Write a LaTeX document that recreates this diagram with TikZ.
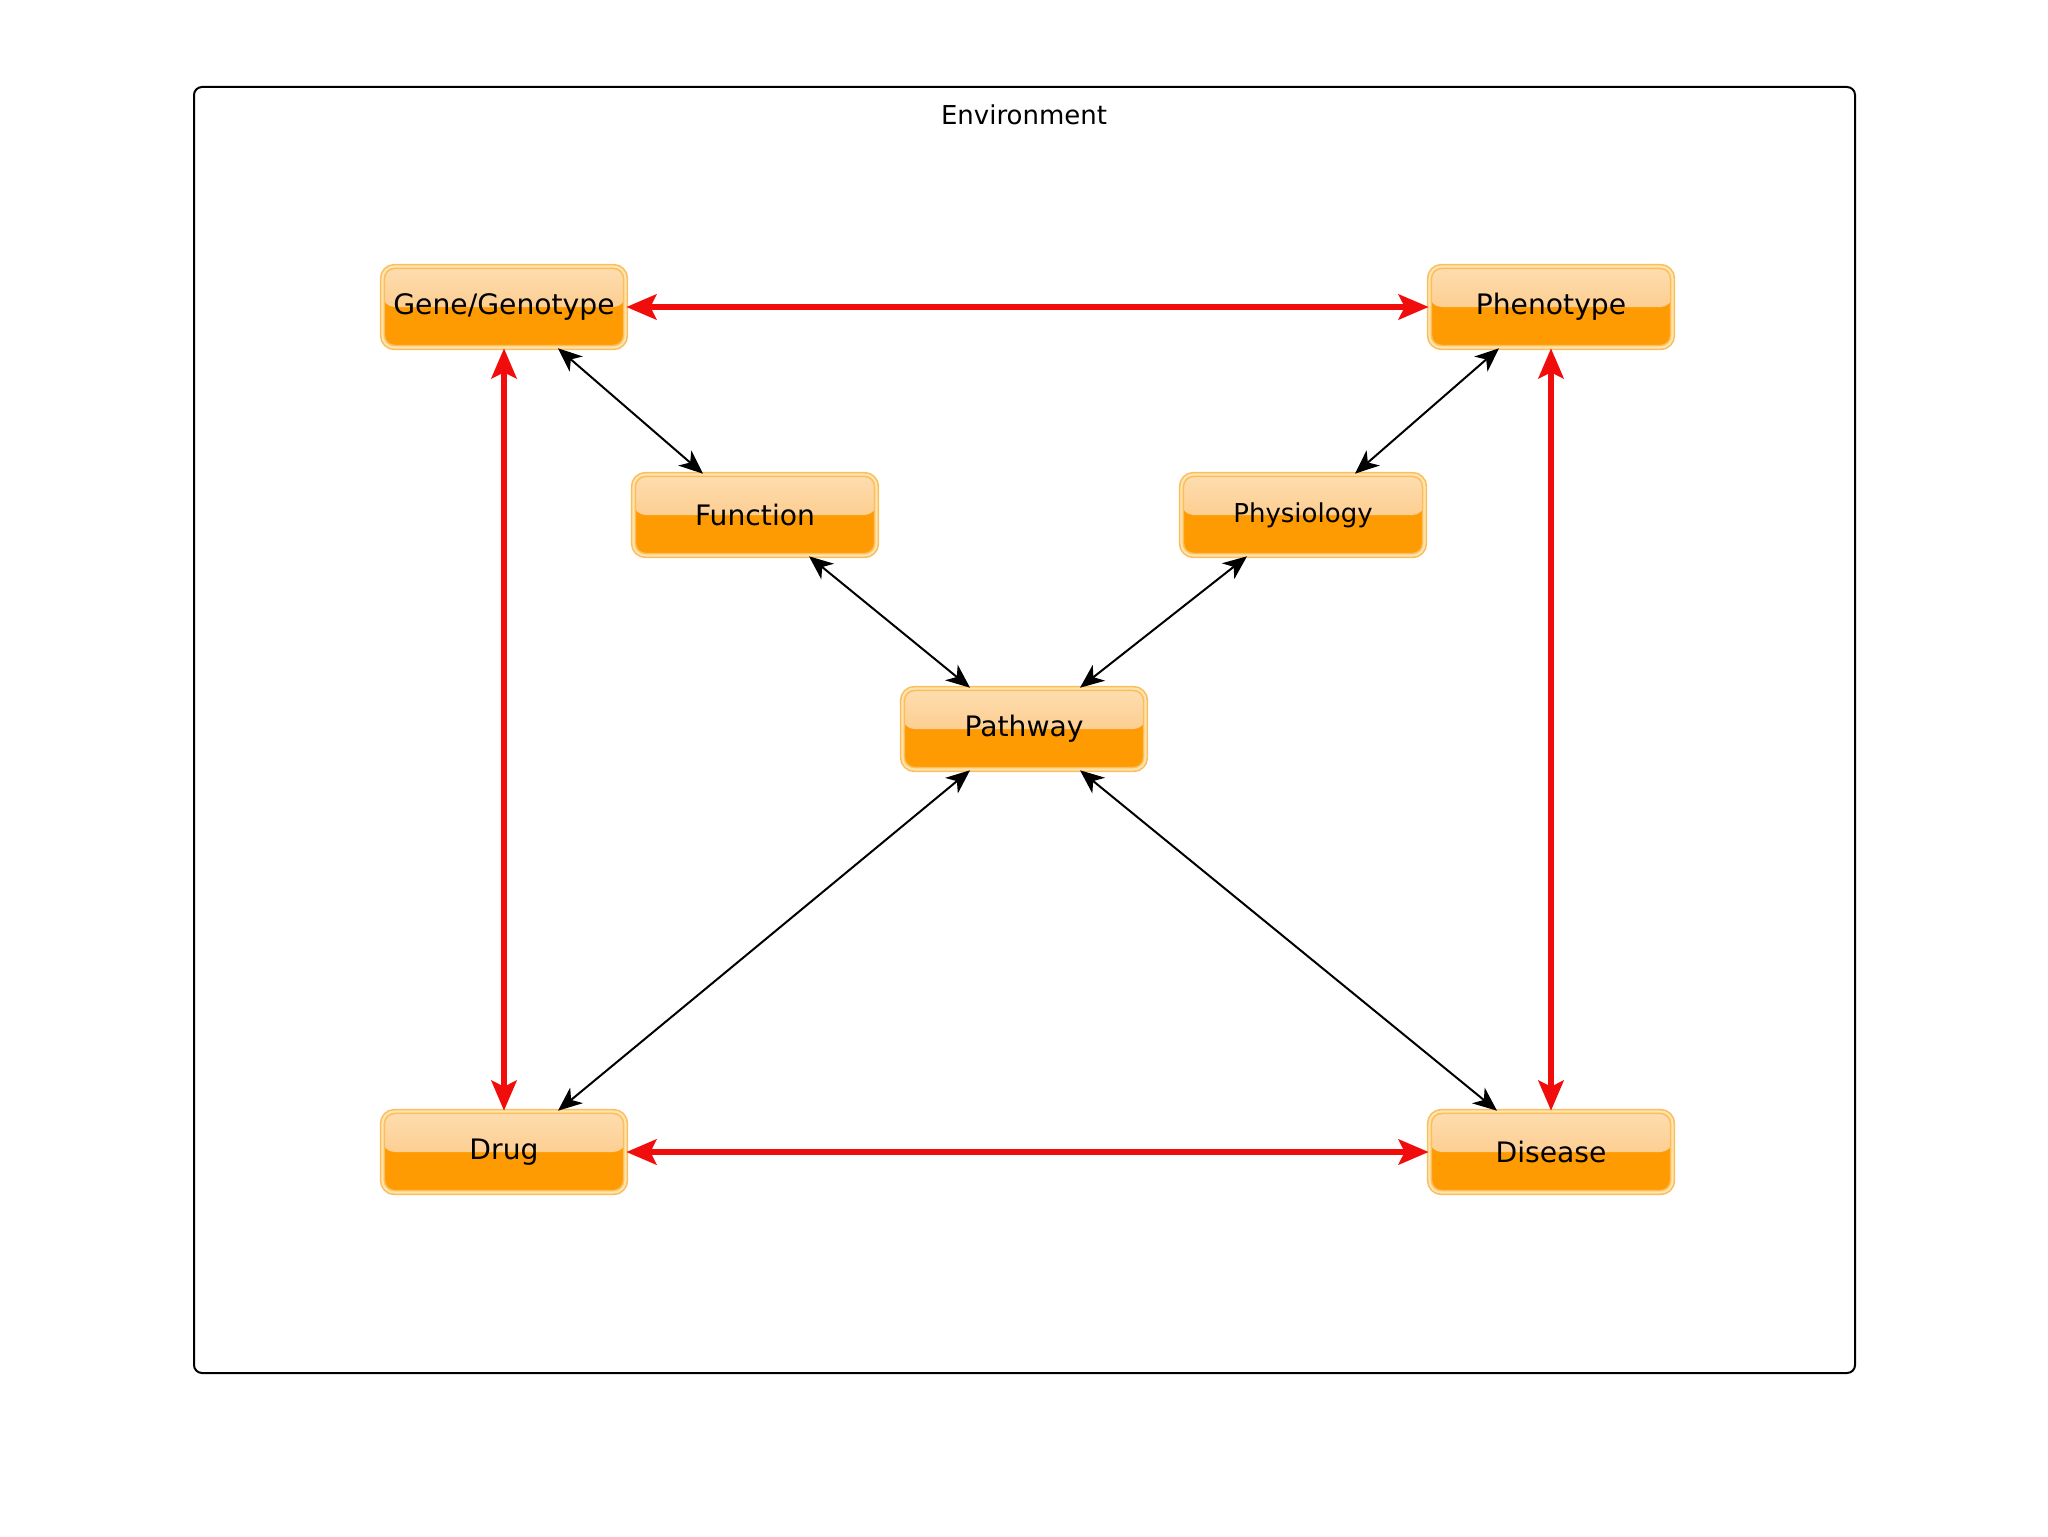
\documentclass[tikz,border=0pt]{standalone}
\usepackage{fontspec}
\setmainfont{DejaVu Sans}
\usetikzlibrary{arrows.meta,calc}
\definecolor{boxorange}{HTML}{FF9B02}
\definecolor{topA}{HTML}{FDDDB0}
\definecolor{topB}{HTML}{FCC073}
\definecolor{boxborder}{HTML}{FBBE5C}
\definecolor{boxinner}{HTML}{FFE3B0}
\definecolor{redarrow}{HTML}{F20D0D}
\tikzset{
  box/.style={rounded corners=6pt, minimum width=121.5pt, minimum height=40.5pt,
    fill=boxorange, draw=boxborder, double=boxinner, double distance=1.1pt, line width=0.8pt,
    font=\fontsize{14.1}{17}\selectfont, text=black,
    path picture={\shade[top color=topA,bottom color=topB]
      (path picture bounding box.north west) rectangle ([yshift=0pt]path picture bounding box.east);}},
  thin arrow/.style={line width=1pt, {Stealth[length=12pt,width=10pt,inset=3.5pt]}-{Stealth[length=12pt,width=10pt,inset=3.5pt]}},
  red arrow/.style={line width=3pt, draw=redarrow, {Stealth[length=15pt,width=12.5pt,inset=3pt]}-{Stealth[length=15pt,width=12.5pt,inset=3pt]}},
  frame/.style={draw=black, line width=1pt, rounded corners=4pt}
}
\begin{document}
\begin{tikzpicture}[x=0.5pt,y=-0.5pt]
\useasboundingbox (0,0) rectangle (2048,1536);
\draw[frame] (194,87) rectangle (1855,1373);
\node[font=\fontsize{13}{15}\selectfont] (env) at (1024,115) {Environment};

\node[box] (gene) at (504,307) {Gene/Genotype};
\node[box] (pheno) at (1551,307) {Phenotype};
\node[box] (func) at (755,515) {Function};
\node[box, font=\fontsize{13}{16}\selectfont] (phys) at (1303,515) {Physiology};
\node[box] (path) at (1024,729) {Pathway};
\node[box] (drug) at (504,1152) {Drug};
\node[box] (dis) at (1551,1152) {Disease};

\draw[red arrow] (gene.east) -- (pheno.west);
\draw[red arrow] (drug.east) -- (dis.west);
\draw[red arrow] (gene.south) -- (drug.north);
\draw[red arrow] (pheno.south) -- (dis.north);

\draw[thin arrow] ([xshift=27pt]gene.south) -- ([xshift=-26pt]func.north);
\draw[thin arrow] ([xshift=-26pt]pheno.south) -- ([xshift=26pt]phys.north);
\draw[thin arrow] ([xshift=27pt]func.south) -- ([xshift=-27pt]path.north);
\draw[thin arrow] ([xshift=-28pt]phys.south) -- ([xshift=28pt]path.north);
\draw[thin arrow] ([xshift=-27pt]path.south) -- ([xshift=27pt]drug.north);
\draw[thin arrow] ([xshift=28pt]path.south) -- ([xshift=-27pt]dis.north);
\end{tikzpicture}
\end{document}
